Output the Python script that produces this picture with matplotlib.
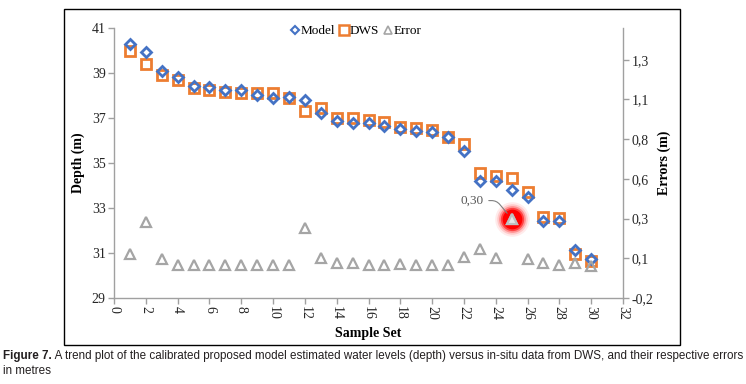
import matplotlib
matplotlib.use('Agg')
import matplotlib.pyplot as plt
from matplotlib.patches import Rectangle
from matplotlib.lines import Line2D

# 数据
samples = list(range(1, 31))
model = [40.27, 39.93, 39.10, 38.81, 38.42, 38.36, 38.23, 38.24, 38.02, 37.90,
         37.93, 37.79, 37.20, 36.86, 36.80, 36.76, 36.66, 36.50, 36.44, 36.39,
         36.14, 35.55, 34.20, 34.21, 33.80, 33.47, 32.44, 32.42, 31.13, 30.72]
dws = [40.00, 39.40, 38.90, 38.70, 38.33, 38.24, 38.16, 38.10, 38.10, 38.10,
       37.90, 37.29, 37.45, 37.02, 36.98, 36.89, 36.84, 36.61, 36.57, 36.47,
       36.17, 35.83, 34.54, 34.44, 34.35, 33.71, 32.61, 32.57, 30.94, 30.64]
error = [0.075, 0.28, 0.045, 0.01, 0.01, 0.01, 0.005, 0.01, 0.01, 0.01,
         0.005, 0.24, 0.05, 0.022, 0.022, 0.008, 0.008, 0.012, 0.008, 0.005,
         0.005, 0.06, 0.107, 0.05, 0.30, 0.048, 0.018, 0.008, 0.018, 0.0]

depth_ticks = [29, 31, 33, 35, 37, 39, 41]
err_ticks = [-0.2, 0.05, 0.3, 0.55, 0.8, 1.05, 1.3]
err_tick_labels = ['-0,2', '0,1', '0,3', '0,6', '0,8', '1,1', '1,3']
x_ticks = list(range(0, 33, 2))
highlight_idx = 24
highlight_label = '0,30'

caption_bold = 'Figure 7.'
caption_rest = (' A trend plot of the calibrated proposed model estimated water levels (depth) '
                'versus in-situ data from DWS, and their respective errors')
caption_line2 = 'in metres'

C_MODEL = '#4472C4'
C_DWS = '#ED7D31'
C_ERR = '#A5A5A5'
C_AXIS = '#A0A0A0'
SERIF = 'Liberation Serif'

W, H = 746, 384
fig = plt.figure(figsize=(W / 100, H / 100), dpi=100)
ax = fig.add_axes([114 / W, 1 - 298 / H, (623 - 114) / W, (298 - 28) / H])
ax2 = ax.twinx()

# 主轴：深度
ax.plot(samples, dws, linestyle='none', marker='s', ms=7.2, mfc='none',
        mec=C_DWS, mew=2.0, zorder=3)
ax.plot(samples, model, linestyle='none', marker='D', ms=5.4, mfc='none',
        mec=C_MODEL, mew=2.0, zorder=4)

ax.set_xlim(0, 32)
ax.set_ylim(29, 41)
ax.set_xticks(x_ticks)
ax.set_yticks(depth_ticks)

# 副轴：误差（高亮点带红色光晕）
hx, hy = samples[highlight_idx], error[highlight_idx]
for s, a in [(620, 0.08), (480, 0.14), (370, 0.28), (280, 0.55), (200, 1.0)]:
    ax2.scatter([hx], [hy], s=s, color='#FF0000', alpha=a, linewidths=0, zorder=1)
ax2.plot(samples, error, linestyle='none', marker='^', ms=7.5, mfc='none',
         mec=C_ERR, mew=1.6, zorder=3)
ax2.plot([hx], [hy], linestyle='none', marker='^', ms=7.5, mfc='#E6E6E6',
         mec='#BFBFBF', mew=1.6, zorder=4)
ax2.set_ylim(-0.2, 1.5)
ax2.set_yticks(err_ticks)
ax2.set_yticklabels(err_tick_labels)

ax2.annotate(highlight_label, xy=(hx, hy), xytext=(-40, 18), textcoords='offset pixels',
             ha='center', va='center', fontsize=9.5, family=SERIF, color='#595959',
             arrowprops=dict(arrowstyle='-', color='#7F7F7F', lw=0.8,
                             connectionstyle='angle,angleA=0,angleB=130,rad=5',
                             shrinkA=2, shrinkB=5))

for a in (ax, ax2):
    a.spines['top'].set_visible(False)
    for sp in ('left', 'right', 'bottom'):
        a.spines[sp].set_color(C_AXIS)
        a.spines[sp].set_linewidth(1.0)
    a.tick_params(direction='out', length=4, width=1, color=C_AXIS,
                  labelsize=10, labelcolor='#262626', pad=2)
    for lab in a.get_xticklabels() + a.get_yticklabels():
        lab.set_family(SERIF)
ax.spines['right'].set_visible(False)
ax2.spines['left'].set_visible(False)
ax2.spines['bottom'].set_visible(False)
ax.tick_params(axis='x', labelrotation=-90)

ax.set_ylabel('Depth (m)', family=SERIF, fontweight='bold', fontsize=10, labelpad=5)
ax2.set_ylabel('Errors (m)', family=SERIF, fontweight='bold', fontsize=10, labelpad=3)
ax.set_xlabel('Sample Set', family=SERIF, fontweight='bold', fontsize=10, labelpad=5)

handles = [
    Line2D([], [], linestyle='none', marker='D', ms=4.5, mfc='none', mec=C_MODEL, mew=1.5),
    Line2D([], [], linestyle='none', marker='s', ms=6.5, mfc='none', mec=C_DWS, mew=1.8),
    Line2D([], [], linestyle='none', marker='^', ms=5.5, mfc='none', mec=C_ERR, mew=1.2),
]
fig.legend(handles, ['Model', 'DWS', 'Error'], loc='upper left',
           bbox_to_anchor=(291 / W, 1 - 25 / H), ncol=3, frameon=False,
           handlelength=0.6, handletextpad=0.1, columnspacing=0.4,
           borderaxespad=0, borderpad=0,
           prop={'family': SERIF, 'size': 9.5})

# 外框
fig.patches.append(Rectangle((64 / W, 1 - 345 / H), (680 - 64) / W, (345 - 9) / H,
                             transform=fig.transFigure, fill=False,
                             edgecolor='black', linewidth=1.0))

# 图注
cap_font = ['Liberation Sans Narrow', 'Liberation Sans', 'DejaVu Sans']
t1 = fig.text(3 / W, 1 - 359 / H, caption_bold, fontweight='bold', family=cap_font,
              fontsize=9, color='#231F20', va='baseline')
fig.canvas.draw()
bb = t1.get_window_extent()
t2 = fig.text(bb.x1 / W, 1 - 359 / H, caption_rest, family=cap_font,
              fontsize=9, color='#231F20', va='baseline')
fig.canvas.draw()
w2 = t2.get_window_extent().x1
scale = (742 - 3) / (w2 - 3)
t1.set_fontsize(9 * scale)
fig.canvas.draw()
bb = t1.get_window_extent()
t2.set_fontsize(9 * scale)
t2.set_x(bb.x1 / W)
fig.text(3 / W, 1 - 374 / H, caption_line2, family=cap_font, fontsize=9 * scale,
         color='#231F20', va='baseline')

fig.savefig('out.png', dpi=100)
